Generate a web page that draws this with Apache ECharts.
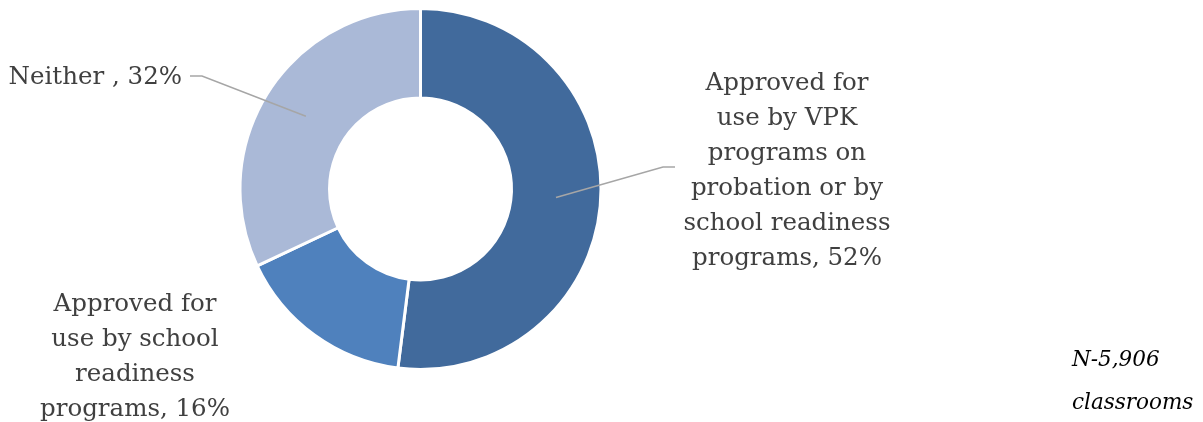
<!DOCTYPE html>
<html>
<head>
<meta charset="utf-8">
<style>
  html, body { margin: 0; padding: 0; background: #ffffff; }
  #chart { width: 1203px; height: 422px; }
</style>
<script src="https://cdn.jsdelivr.net/npm/echarts@6/dist/echarts.min.js"></script>
</head>
<body>
<div id="chart"></div>
<script>
// Curriculum approval status of classrooms (share of classrooms, %)
const categories = [
  'Approved for\nuse by VPK\nprograms on\nprobation or by\nschool readiness\nprograms',
  'Approved for\nuse by school\nreadiness\nprograms',
  'Neither '
];
const shares = [52, 16, 32];
const colors = ['#416A9C', '#4F81BD', '#AAB9D7'];
const footnote = ['N-5,906', 'classrooms'];

const CX = 420.5, CY = 189, R_IN = 91, R_OUT = 180.5;

// Label anchors and leader-line elbows for each slice
const labelSpots = [
  { x: 787, y: 171, align: 'center', elbow: [663, 167], end: [675, 167] },
  { x: 135, y: 357, align: 'center', elbow: null, end: null },
  { x: 182, y: 78, align: 'right', elbow: [202, 76], end: [190, 76] }
];

// Point at the middle of the ring along each slice's mid angle
const total = shares.reduce((a, b) => a + b, 0);
const ringMid = [];
let acc = 0;
shares.forEach(v => {
  const midDeg = 90 - (acc + v / 2) / total * 360;
  const rad = midDeg * Math.PI / 180;
  const r = (R_IN + R_OUT) / 2;
  ringMid.push([CX + r * Math.cos(rad), CY - r * Math.sin(rad)]);
  acc += v;
});

// Leader lines drawn above the ring, from the slice middle to the label
const leaderLines = labelSpots
  .map((s, i) => s.elbow ? {
    type: 'polyline',
    z: 100,
    silent: true,
    shape: { points: [ringMid[i], s.elbow, s.end] },
    style: { stroke: '#A6A6A6', lineWidth: 1.5, fill: null }
  } : null)
  .filter(Boolean);

const chart = echarts.init(document.getElementById('chart'), null, { renderer: 'canvas' });

chart.setOption({
  animation: false,
  backgroundColor: '#ffffff',
  title: {
    text: footnote.join('\n'),
    left: 1067,
    top: 334,
    textStyle: {
      fontFamily: 'DejaVu Serif',
      fontStyle: 'italic',
      fontWeight: 'normal',
      fontSize: 21.5,
      lineHeight: 43,
      color: '#000000'
    }
  },
  graphic: leaderLines,
  series: [{
    type: 'pie',
    center: [CX, CY],
    radius: [R_IN, R_OUT],
    startAngle: 90,
    clockwise: true,
    avoidLabelOverlap: false,
    emphasis: { disabled: true },
    itemStyle: { borderColor: '#ffffff', borderWidth: 3 },
    label: {
      show: true,
      position: 'outside',
      fontFamily: 'DejaVu Serif',
      fontSize: 24.5,
      lineHeight: 35,
      color: '#404040',
      align: 'center',
      formatter: p => p.name + ', ' + p.value + '%'
    },
    labelLine: { show: false },
    labelLayout: params => {
      const s = labelSpots[params.dataIndex];
      return { x: s.x, y: s.y, align: s.align, verticalAlign: 'middle' };
    },
    data: categories.map((name, i) => ({
      name: name,
      value: shares[i],
      itemStyle: { color: colors[i] },
      label: { align: labelSpots[i].align }
    }))
  }]
});
</script>
</body>
</html>
